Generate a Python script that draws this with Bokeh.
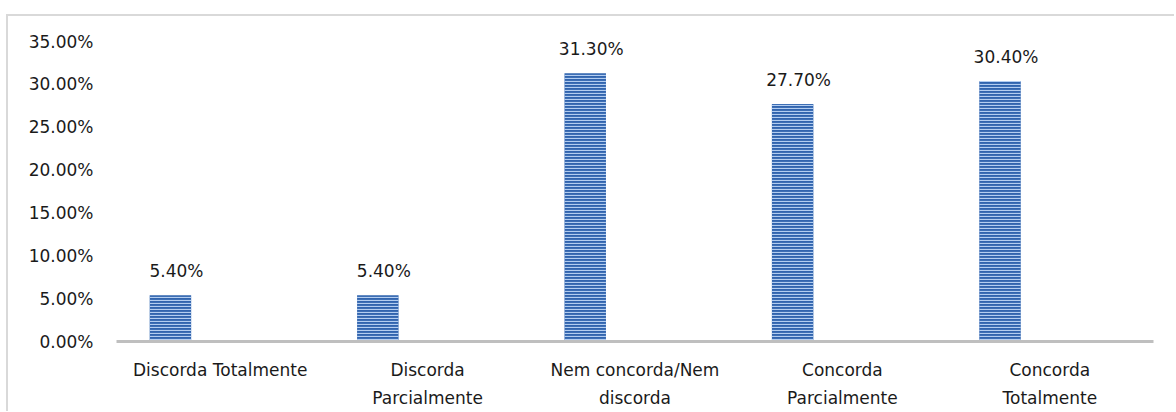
from bokeh.plotting import figure
from bokeh.models import (ColumnDataSource, FactorRange, Range1d, FixedTicker, PrintfTickFormatter,
                          LabelSet, CategoricalAxis, CustomJSTickFormatter)
from bokeh.core.properties import value
from bokeh.transform import dodge
from bokeh.embed import file_html
from bokeh.resources import INLINE

# Response categories and their shares (%)
categories = ["Discorda Totalmente", "Discorda Parcialmente", "Nem concorda/Nem discorda",
              "Concorda Parcialmente", "Concorda Totalmente"]
label_line1 = ["Discorda Totalmente", "Discorda", "Nem concorda/Nem", "Concorda", "Concorda"]
label_line2 = ["", "Parcialmente", "discorda", "Parcialmente", "Totalmente"]
shares = [5.4, 5.4, 31.3, 27.7, 30.4]
y_ticks = [0, 5, 10, 15, 20, 25, 30, 35]

FONT = "DejaVu Sans"
SIZE = "17px"
TEXT = "#1a1a1a"

source = ColumnDataSource(dict(
    cat=categories,
    share=shares,
    label=[f"{v:.2f}%" for v in shares],
))

p = figure(
    x_range=FactorRange(*categories),
    y_range=Range1d(0, 35),
    width=1168, height=397,
    output_backend="svg", toolbar_location=None,
    min_border_left=108, min_border_right=23, min_border_top=25, min_border_bottom=72,
    margin=(14, 0, 0, 6),
    styles={"border-left": "2px solid #d9d9d9", "border-top": "2px solid #d9d9d9"},
)
p.outline_line_color = None
p.xgrid.grid_line_color = None
p.ygrid.grid_line_color = None
p.background_fill_color = "white"
p.border_fill_color = "white"

# Striped blue bars, shifted left inside each category slot
bar_x = dodge("cat", -0.24, range=p.x_range)
p.vbar(x=bar_x, top="share", width=0.2, source=source,
       fill_color="#3164ae", line_color=None,
       hatch_pattern="horizontal_line", hatch_color="#b3cdf0", hatch_scale=3, hatch_weight=1.2)

# Value labels above the bars
p.add_layout(LabelSet(x=bar_x, y="share", text="label", source=source,
                      text_align="center", text_baseline="middle", x_offset=6, y_offset=24,
                      text_font=value(FONT), text_font_size=SIZE, text_color=TEXT))

# Y axis: percentages without axis line
p.yaxis.ticker = FixedTicker(ticks=y_ticks)
p.yaxis.formatter = PrintfTickFormatter(format="%.2f%%")
p.yaxis.axis_line_color = None
p.yaxis.major_tick_line_color = None
p.yaxis.minor_tick_line_color = None
p.yaxis.major_tick_out = 0
p.yaxis.major_label_standoff = 23
p.yaxis.major_label_text_font = FONT
p.yaxis.major_label_text_font_size = SIZE
p.yaxis.major_label_text_color = TEXT


def style_x(axis, lines, standoff):
    axis.major_tick_line_color = None
    axis.minor_tick_line_color = None
    axis.major_tick_out = 0
    axis.major_tick_in = 0
    axis.major_label_standoff = standoff
    axis.formatter = CustomJSTickFormatter(
        args=dict(cats=categories, lines=lines),
        code="const i = cats.indexOf(tick); return i >= 0 ? lines[i] : tick;",
    )
    axis.major_label_text_font = FONT
    axis.major_label_text_font_size = SIZE
    axis.major_label_text_color = TEXT


# X axis: grey baseline with the first line of each category name
xa = p.xaxis[0]
xa.axis_line_color = "#bfbfbf"
xa.axis_line_width = 3
style_x(xa, label_line1, 18)

# Second line of the category names
xb = CategoricalAxis(axis_line_color=None)
style_x(xb, label_line2, 5)
p.add_layout(xb, "below")

open("out.html", "w").write(file_html(p, INLINE))
